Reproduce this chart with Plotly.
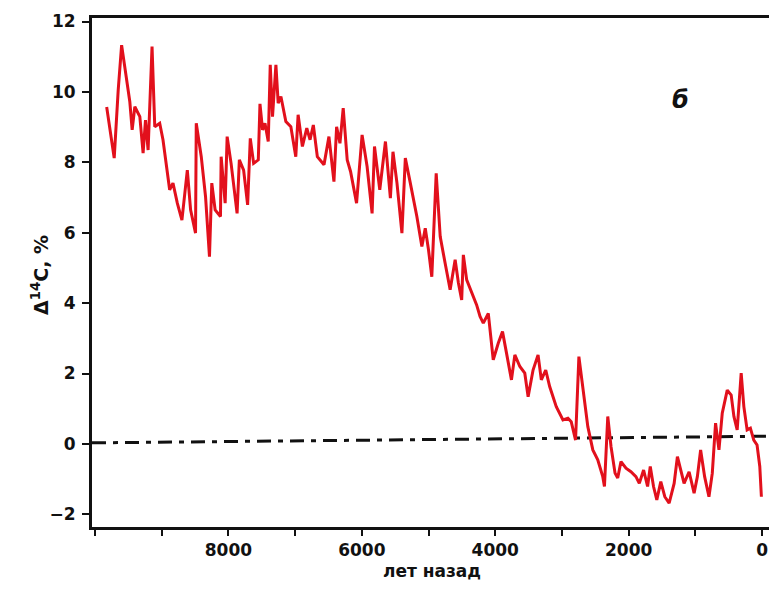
import plotly.graph_objects as go

# Δ14C record (years before present, per mil / %)
years = [9825, 9712, 9652, 9601, 9478, 9443, 9403, 9328, 9279, 9243, 9204, 9145, 9104, 9030,
         8981, 8881, 8831, 8766, 8697, 8616, 8567, 8493, 8482, 8407, 8343, 8284, 8249, 8199,
         8119, 8109, 8049, 8019, 7960, 7870, 7836, 7772, 7712, 7672, 7622, 7552, 7527, 7488,
         7452, 7403, 7373, 7339, 7288, 7254, 7213, 7139, 7064, 6990, 6955, 6891, 6825, 6776,
         6727, 6667, 6567, 6493, 6418, 6378, 6328, 6279, 6219, 6169, 6079, 5996, 5921, 5846,
         5810, 5731, 5646, 5572, 5533, 5473, 5399, 5348, 5273, 5175, 5100, 5049, 5000, 4951,
         4885, 4825, 4751, 4676, 4601, 4552, 4503, 4478, 4428, 4354, 4279, 4228, 4179, 4104,
         4030, 3955, 3891, 3831, 3757, 3706, 3631, 3557, 3507, 3433, 3358, 3309, 3243, 3184,
         3085, 2985, 2910, 2861, 2796, 2746, 2687, 2612, 2537, 2463, 2388, 2363, 2313, 2264,
         2204, 2164, 2115, 2040, 1966, 1891, 1840, 1776, 1716, 1676, 1627, 1578, 1518, 1458,
         1393, 1318, 1269, 1209, 1169, 1094, 1019, 970, 921, 861, 796, 746, 697, 646, 597,
         522, 463, 422, 373, 313, 273, 224, 175, 124, 75, 34, 10]
delta14c = [9.57, 8.12, 10.06, 11.33, 9.72, 8.92, 9.58, 9.30, 8.26, 9.20, 8.35, 11.29, 9.01, 9.11,
            8.64, 7.22, 7.41, 6.84, 6.36, 7.78, 6.65, 5.99, 9.11, 8.16, 7.03, 5.32, 7.41, 6.65,
            6.46, 8.16, 6.84, 8.73, 7.97, 6.55, 8.07, 7.78, 6.79, 8.68, 7.97, 8.07, 9.66, 8.92,
            9.11, 8.59, 10.77, 9.30, 10.77, 9.68, 9.87, 9.16, 9.01, 8.16, 9.35, 8.45, 8.97, 8.64,
            9.06, 8.16, 7.93, 8.73, 7.45, 9.01, 8.54, 9.54, 8.07, 7.74, 6.84, 8.78, 7.88, 6.55,
            8.45, 7.22, 8.59, 6.98, 8.30, 7.41, 5.99, 8.12, 7.41, 6.46, 5.61, 6.13, 5.51, 4.75,
            7.69, 5.89, 5.13, 4.38, 5.23, 4.57, 4.09, 5.37, 4.66, 4.28, 3.95, 3.62, 3.43, 3.71,
            2.39, 2.86, 3.19, 2.58, 1.82, 2.53, 2.20, 2.01, 1.34, 2.10, 2.53, 1.82, 2.10, 1.63,
            1.06, 0.68, 0.73, 0.63, 0.11, 2.48, 1.53, 0.49, -0.17, -0.45, -0.93, -1.21, 0.78, -0.08,
            -0.83, -0.97, -0.50, -0.69, -0.79, -0.93, -1.12, -0.74, -1.21, -0.64, -1.21, -1.59, -1.07, -1.50,
            -1.68, -1.12, -0.36, -0.83, -1.12, -0.79, -1.40, -0.93, -0.17, -0.93, -1.50, -0.83, 0.59, -0.17, 0.87,
            1.53, 1.39, 0.78, 0.40, 2.01, 1.06, 0.40, 0.45, 0.11, -0.03, -0.64, -1.50]

# zero reference line (as drawn in the scan)
ref_years = [10045, -134]
ref_values = [0.03, 0.22]

x_tickvals = [0, 2000, 4000, 6000, 8000]
x_ticktext = ["0", "2000", "4000", "6000", "8000"]
y_tickvals = [-2, 0, 2, 4, 6, 8, 10, 12]

x_title = "лет назад"
y_title = "Δ<sup>14</sup>C, %"
panel_label = "б"

FONT = "DejaVu Sans"

fig = go.Figure()
fig.add_trace(go.Scatter(x=ref_years, y=ref_values, mode="lines",
                         line=dict(color="#111111", width=3, dash="14px,7px,5px,7px"),
                         hoverinfo="skip", showlegend=False))
fig.add_trace(go.Scatter(x=years, y=delta14c, mode="lines",
                         line=dict(color="#e2101c", width=3),
                         showlegend=False))

axis_common = dict(showline=True, linecolor="#111111", linewidth=3, mirror=True,
                   showgrid=False, zeroline=False, ticks="outside", tickwidth=2,
                   tickcolor="#111111",
                   tickfont=dict(family=FONT, size=17, color="#111111", weight="bold"))

fig.update_xaxes(range=[10045, -134], tickmode="array", tickvals=x_tickvals,
                 ticktext=x_ticktext, ticklen=6,
                 minor=dict(dtick=1000, tick0=0, ticks="outside", ticklen=6,
                            tickwidth=2, tickcolor="#111111"),
                 **axis_common)
fig.update_yaxes(range=[-2.36, 12.1], tickmode="array", tickvals=y_tickvals,
                 ticklen=7, ticklabelstandoff=3, **axis_common)

fig.add_annotation(text=x_title, xref="paper", yref="paper", x=0.5, y=0,
                   yshift=-44, yanchor="middle", showarrow=False,
                   font=dict(family=FONT, size=17, color="#111111", weight="bold"))
fig.add_annotation(text=y_title, xref="paper", yref="paper", x=0, y=0.495,
                   xshift=-52, xanchor="center", yanchor="middle", textangle=-90,
                   showarrow=False,
                   font=dict(family=FONT, size=19, color="#111111", weight="bold"))
fig.add_annotation(text=panel_label, xref="x", yref="y", x=1224, y=9.77,
                   showarrow=False,
                   font=dict(family=FONT, size=24, color="#111111", weight="bold",
                             style="italic"))

# the page adds an 8px body margin, so the figure is 8px smaller than the window
fig.update_layout(width=769, height=605, margin=dict(l=84, r=3, t=10, b=86),
                  paper_bgcolor="white", plot_bgcolor="white")

fig.write_html("out.html")
